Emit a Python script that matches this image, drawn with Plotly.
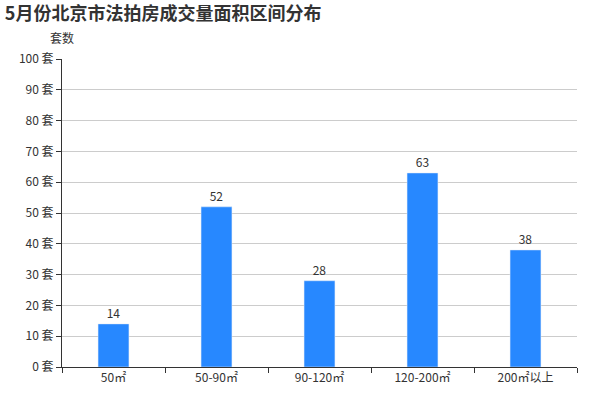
import plotly.graph_objects as go

categories = ["50㎡", "50-90㎡", "90-120㎡", "120-200㎡", "200㎡以上"]
values = [14, 52, 28, 63, 38]
yticks = [0, 10, 20, 30, 40, 50, 60, 70, 80, 90, 100]
ylabels = [f"{v} 套" for v in yticks]

fig = go.Figure(go.Bar(
    x=categories, y=values, width=0.3, marker_color="#2788ff",
    text=values, textposition="outside", textfont=dict(size=12, color="#333"),
    cliponaxis=False,
))
fig.update_layout(
    width=600, height=400, margin=dict(l=62, r=23, t=59, b=33, autoexpand=False),
    plot_bgcolor="white", paper_bgcolor="white",
    font=dict(family="Noto Sans CJK SC", size=12, color="#333"),
    title=dict(text="<b>5月份北京市法拍房成交量面积区间分布</b>", x=0.008, y=0.967,
               yanchor="middle", font=dict(size=18, color="#333")),
    showlegend=False,
)
fig.add_annotation(text="套数", xref="paper", yref="paper", x=0.0, y=1.035,
                   xanchor="center", yanchor="bottom", showarrow=False,
                   font=dict(size=12, color="#333"))
fig.update_yaxes(range=[0, 100], tickvals=yticks, ticktext=ylabels, automargin=False,
                 showgrid=True, gridcolor="#ccc", showline=True, linecolor="#333",
                 ticks="outside", ticklen=5, tickcolor="#333", zeroline=False)
fig.update_xaxes(showline=True, linecolor="#333", ticks="outside", ticklen=5, automargin=False,
                 tickcolor="#333", tickson="boundaries")
fig.write_html("out.html", config={"displayModeBar": False},
               post_script="document.body.style.margin='0';")
